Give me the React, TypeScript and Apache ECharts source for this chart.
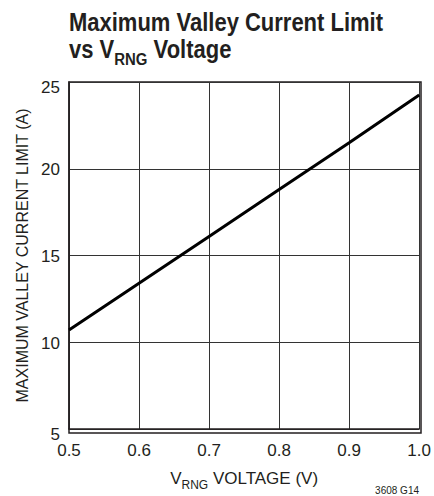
import React, { useEffect, useRef } from "react";
import * as echarts from "echarts";

const voltage = [0.5, 0.6, 0.7, 0.8, 0.9, 1.0];
const currentLimit = [10.7, 13.4, 16.1, 18.8, 21.5, 24.25];
const xTicks = ["0.5", "0.6", "0.7", "0.8", "0.9", "1.0"];

const FONT = "'Liberation Sans', Arial, sans-serif";
const INK = "#231f20";

export default function App() {
  const ref = useRef<HTMLDivElement>(null);
  useEffect(() => {
    const chart = echarts.init(ref.current!, null, { renderer: "svg" });
    chart.setOption({
      animation: false,
      backgroundColor: "#ffffff",
      grid: { left: 69, right: 13, top: 82, bottom: 63 },
      xAxis: {
        type: "value",
        min: 0.5,
        max: 1.0,
        interval: 0.1,
        name: "{v|V}{s|RNG}{v| VOLTAGE (V)}",
        nameLocation: "middle",
        nameGap: 38,
        nameTextStyle: {
          rich: {
            v: { fontFamily: FONT, fontSize: 17, color: INK, verticalAlign: "bottom", lineHeight: 20 },
            s: { fontFamily: FONT, fontSize: 12, color: INK, verticalAlign: "bottom", lineHeight: 20, padding: [0, 0, -4, 0] },
          },
        },
        axisLine: { show: true, lineStyle: { color: INK, width: 1.5 } },
        axisTick: { show: false },
        splitLine: { show: true, lineStyle: { color: "#333333", width: 1 } },
        axisLabel: {
          fontFamily: FONT,
          fontSize: 17,
          color: INK,
          margin: 13,
          formatter: (v: number) => xTicks[Math.round((v - 0.5) * 10)] ?? "",
        },
      },
      yAxis: {
        type: "value",
        min: 5,
        max: 25,
        interval: 5,
        name: "MAXIMUM VALLEY CURRENT LIMIT (A)",
        nameLocation: "middle",
        nameGap: 34,
        nameTextStyle: { fontFamily: FONT, fontSize: 16, color: INK },
        axisLine: { show: true, lineStyle: { color: INK, width: 1.5 } },
        axisTick: { show: false },
        splitLine: { show: true, lineStyle: { color: "#333333", width: 1 } },
        axisLabel: {
          fontFamily: FONT,
          fontSize: 17,
          color: INK,
          margin: 9,
          formatter: (v: number) => (v === 5 || v === 25 ? `{e|${v}}` : `{n|${v}}`),
          rich: {
            e: { fontFamily: FONT, fontSize: 17, color: INK, padding: [11, 0, 0, 0] },
            n: { fontFamily: FONT, fontSize: 17, color: INK, padding: [2, 0, 0, 0] },
          },
        },
      },
      graphic: [
        { type: "rect", shape: { x: 69, y: 82, width: 352, height: 351 }, style: { fill: "none", stroke: INK, lineWidth: 1.5 }, silent: true },
        {
          type: "group",
          x: 69,
          y: 0,
          scaleX: 0.88,
          children: [
            {
              type: "text",
              x: 0,
              y: 10,
              style: { text: "Maximum Valley Current Limit", fontFamily: FONT, fontWeight: "bold", fontSize: 25, fill: INK, verticalAlign: "top" },
            },
            {
              type: "text",
              x: 0,
              y: 34,
              style: {
                text: "{t|vs V}{s|RNG}{t| Voltage}",
                verticalAlign: "top",
                rich: {
                  t: { fontFamily: FONT, fontWeight: "bold", fontSize: 25, fill: INK, lineHeight: 28, verticalAlign: "bottom" },
                  s: { fontFamily: FONT, fontWeight: "bold", fontSize: 17, fill: INK, lineHeight: 28, verticalAlign: "bottom", padding: [0, 0, -6, 0] },
                },
              },
            },
          ],
        },
        { type: "text", right: 15, bottom: 1, style: { text: "3608 G14", fontFamily: FONT, fontSize: 10, fill: INK } },
      ],
      series: [
        {
          type: "line",
          data: voltage.map((v, i) => [v, currentLimit[i]]),
          symbol: "none",
          lineStyle: { color: "#000000", width: 3 },
        },
      ],
    });
    return () => chart.dispose();
  }, []);
  return <div ref={ref} style={{ width: 434, height: 496, position: "absolute", left: 0, top: 0 }} />;
}
